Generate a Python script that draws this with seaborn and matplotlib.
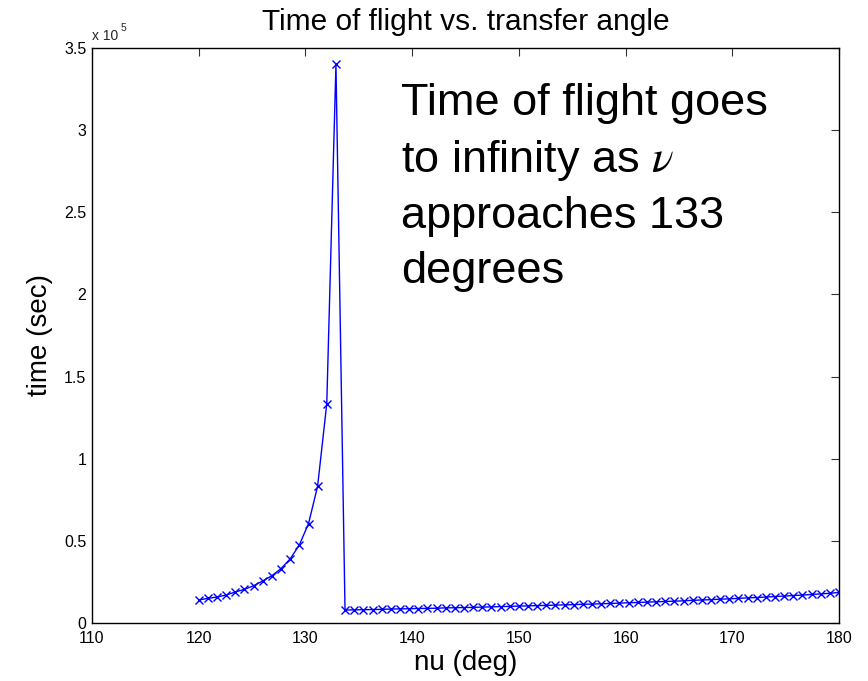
import matplotlib
matplotlib.use("Agg")
import matplotlib.pyplot as plt
import seaborn as sns
import pandas as pd

# ---- data ----
nu_deg = [120.00, 120.86, 121.71, 122.57, 123.43, 124.29, 125.14, 126.00, 126.86, 127.71,
          128.57, 129.43, 130.29, 131.14, 132.00, 132.86, 133.71, 134.57, 135.43, 136.29,
          137.14, 138.00, 138.86, 139.71, 140.57, 141.43, 142.29, 143.14, 144.00, 144.86,
          145.71, 146.57, 147.43, 148.29, 149.14, 150.00, 150.86, 151.71, 152.57, 153.43,
          154.29, 155.14, 156.00, 156.86, 157.71, 158.57, 159.43, 160.29, 161.14, 162.00,
          162.86, 163.71, 164.57, 165.43, 166.29, 167.14, 168.00, 168.86, 169.71, 170.57,
          171.43, 172.29, 173.14, 174.00, 174.86, 175.71, 176.57, 177.43, 178.29, 179.14,
          180.00]
# time of flight in units of 1e5 seconds
time_e5 = [0.140, 0.150, 0.158, 0.170, 0.189, 0.205, 0.227, 0.256, 0.288, 0.331,
           0.390, 0.475, 0.605, 0.832, 1.335, 3.400, 0.079, 0.080, 0.081, 0.082,
           0.083, 0.085, 0.086, 0.087, 0.088, 0.089, 0.090, 0.092, 0.093, 0.094,
           0.095, 0.097, 0.098, 0.100, 0.101, 0.103, 0.104, 0.106, 0.107, 0.109,
           0.110, 0.112, 0.114, 0.115, 0.117, 0.119, 0.121, 0.123, 0.125, 0.127,
           0.129, 0.131, 0.133, 0.135, 0.138, 0.140, 0.142, 0.145, 0.147, 0.150,
           0.153, 0.155, 0.158, 0.161, 0.164, 0.167, 0.170, 0.174, 0.177, 0.181,
           0.186]
x_ticks = [110, 120, 130, 140, 150, 160, 170, 180]
y_ticks = [0, 0.5, 1, 1.5, 2, 2.5, 3, 3.5]
y_tick_labels = ["0", "0.5", "1", "1.5", "2", "2.5", "3", "3.5"]

title = "Time of flight vs. transfer angle"
xlabel = "nu (deg)"
ylabel = "time (sec)"
note = "Time of flight goes\nto infinity as $\\nu$\napproaches 133\ndegrees"

df = pd.DataFrame({"nu": nu_deg, "t": time_e5})

sns.set_theme(style="white")
plt.rcParams["font.family"] = ["Liberation Sans", "DejaVu Sans"]
plt.rcParams["mathtext.fontset"] = "stix"

fig = plt.figure(figsize=(8.68, 6.81), dpi=100)
ax = fig.add_axes([92 / 868, 1 - 623 / 681, (839 - 92) / 868, (623 - 48) / 681])

sns.lineplot(data=df, x="nu", y="t", ax=ax, color="#0000ff", linewidth=1.0,
             marker="x", markersize=6, markeredgewidth=1.0, markeredgecolor="#0000ff",
             sort=False, estimator=None)

ax.set_xlim(110, 180)
ax.set_ylim(0, 3.5)
ax.set_xticks(x_ticks)
ax.set_xticklabels([str(v) for v in x_ticks])
ax.set_yticks(y_ticks)
ax.set_yticklabels(y_tick_labels)
ax.tick_params(direction="in", length=6, width=0.8, color="#333333",
               top=True, right=True, labelsize=11.5, labelcolor="black")
ax.tick_params(axis="x", pad=6)
ax.tick_params(axis="y", pad=4)
for s in ax.spines.values():
    s.set_color("black")
    s.set_linewidth(1.0)
ax.grid(False)

ax.set_title(title, fontsize=21.5, pad=13, color="black")
ax.set_xlabel(xlabel, fontsize=20, labelpad=3, color="black")
ax.set_ylabel(ylabel, fontsize=20, labelpad=8, color="black")

# exponent label
ax.text(0.0, 1.009, "x 10", transform=ax.transAxes, fontsize=10, va="bottom", ha="left")
ax.text(0.038, 1.026, "5", transform=ax.transAxes, fontsize=7.5, va="bottom", ha="left")

ax.text(139, 3.29, note, fontsize=32.5, va="top", ha="left", linespacing=1.42, color="black")

fig.savefig("out.png", dpi=100)
